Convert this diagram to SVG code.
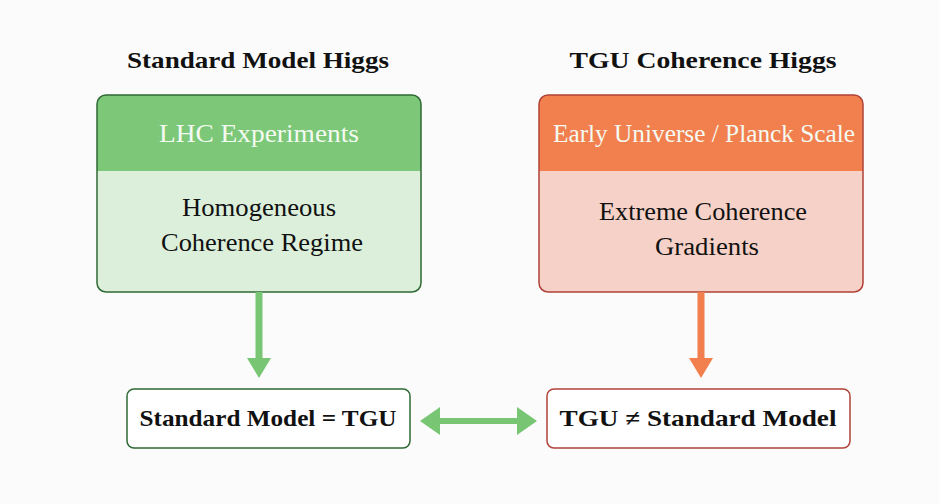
<svg xmlns="http://www.w3.org/2000/svg" width="939" height="504" viewBox="0 0 939 504">
  <style>
    .title { font-family: "Liberation Serif", "DejaVu Serif", serif; font-weight: bold; font-size: 23.5px; fill: #111; text-anchor: middle; }
    .head { font-family: "Liberation Serif", "DejaVu Serif", serif; font-size: 25px; fill: #f4faf2; text-anchor: middle; }
    .body { font-family: "Liberation Serif", "DejaVu Serif", serif; font-size: 25px; fill: #111; text-anchor: middle; }
    .result { font-family: "Liberation Serif", "DejaVu Serif", serif; font-weight: bold; font-size: 23.5px; fill: #111; text-anchor: middle; }
    .green-arrow { fill: #78c674; }
    .orange-arrow { fill: #f2804f; }
  </style>
  <defs>
    <clipPath id="clipLeft"><rect x="97" y="95" width="324" height="197" rx="9"/></clipPath>
    <clipPath id="clipRight"><rect x="539" y="95" width="324" height="197" rx="9"/></clipPath>
  </defs>

  <rect x="0" y="0" width="939" height="504" fill="#fbfbfb"/>

  <!-- column titles -->
  <text id="title-sm" class="title" x="258" y="68" textLength="262" lengthAdjust="spacingAndGlyphs">Standard Model Higgs</text>
  <text id="title-tgu" class="title" x="703" y="68" textLength="267" lengthAdjust="spacingAndGlyphs">TGU Coherence Higgs</text>

  <!-- left regime box -->
  <g id="node-lhc">
    <g clip-path="url(#clipLeft)">
      <rect x="97" y="95" width="324" height="197" fill="#dcefdb"/>
      <rect x="97" y="95" width="324" height="76" fill="#7cc878"/>
    </g>
    <rect x="97" y="95" width="324" height="197" rx="9" fill="none" stroke="#2f6a35" stroke-width="1.5"/>
    <text class="head" x="259" y="142" textLength="200" lengthAdjust="spacingAndGlyphs">LHC Experiments</text>
    <text class="body" x="259" y="216" textLength="154" lengthAdjust="spacingAndGlyphs">Homogeneous</text>
    <text class="body" x="262" y="251" textLength="202" lengthAdjust="spacingAndGlyphs">Coherence Regime</text>
  </g>

  <!-- right regime box -->
  <g id="node-planck">
    <g clip-path="url(#clipRight)">
      <rect x="539" y="95" width="324" height="197" fill="#f6d1c7"/>
      <rect x="539" y="95" width="324" height="76" fill="#f2804f"/>
    </g>
    <rect x="539" y="95" width="324" height="197" rx="9" fill="none" stroke="#b04238" stroke-width="1.5"/>
    <text class="head" x="704" y="142" fill="#fdf1ea" textLength="302" lengthAdjust="spacingAndGlyphs">Early Universe / Planck Scale</text>
    <text class="body" x="703" y="220" textLength="208" lengthAdjust="spacingAndGlyphs">Extreme Coherence</text>
    <text class="body" x="707" y="255" textLength="104" lengthAdjust="spacingAndGlyphs">Gradients</text>
  </g>

  <!-- outcome boxes -->
  <g id="node-sm-eq">
    <rect x="127" y="389" width="283" height="59" rx="7" fill="#ffffff" stroke="#2f6a35" stroke-width="1.5"/>
    <text class="result" x="268" y="426" textLength="257" lengthAdjust="spacingAndGlyphs">Standard Model = TGU</text>
  </g>
  <g id="node-tgu-neq">
    <rect x="547" y="389" width="303" height="59" rx="7" fill="#ffffff" stroke="#b04238" stroke-width="1.5"/>
    <text class="result" x="698" y="426" textLength="277" lengthAdjust="spacingAndGlyphs">TGU ≠ Standard Model</text>
  </g>

  <!-- connectors -->
  <g id="connectors">
    <!-- LHC box down to SM = TGU -->
    <path class="green-arrow" d="M255.5,292 H262.5 V358 H271 L259,378 L247,358 H255.5 Z"/>
    <!-- Planck box down to TGU ≠ SM -->
    <path class="orange-arrow" d="M697.5,292 H704.5 V358 H713 L701,378 L689,358 H697.5 Z"/>
    <!-- two-way link between outcomes -->
    <path class="green-arrow" d="M420,421 L440,407 V418 H517 V407 L537,421 L517,435 V424 H440 V435 Z"/>
  </g>
</svg>
